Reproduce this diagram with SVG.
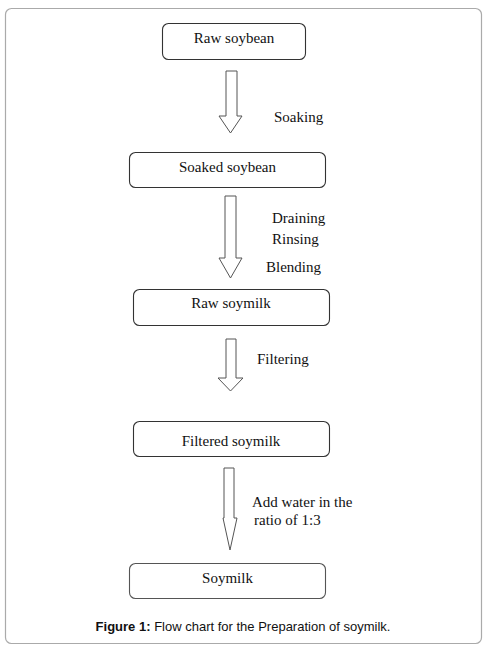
<svg xmlns="http://www.w3.org/2000/svg" width="489" height="650" viewBox="0 0 489 650">
<style>
.frame{fill:#fff;stroke:#aaa;stroke-width:1.2}
.box{fill:#fff;stroke:#333;stroke-width:1.1}
.arrow{fill:#fff;stroke:#555;stroke-width:1}
.t{font-family:"Liberation Serif","Times New Roman",serif;font-size:15px;fill:#111}
.c{font-family:"Liberation Sans",Arial,sans-serif;font-size:13px;fill:#111}
</style>
<rect class="frame" x="5.5" y="8.5" width="476" height="635" rx="6"/>
<g id="connectors">
<path class="arrow" d="M226,71 H237 V116 H242 L230.5,133 L219,116 H226 Z"/>
<path class="arrow" d="M225,196 H236 V258 H242 L230.5,278 L219,258 H225 Z"/>
<path class="arrow" d="M226,339 H236 V378 H243 L230.5,391 L218,378 H226 Z"/>
<path class="arrow" d="M224,468 H234 V518 H237 L230,550 L223,518 H224 Z"/>
<text class="t" x="274" y="122">Soaking</text>
<text class="t" x="272" y="223">Draining</text>
<text class="t" x="272" y="244">Rinsing</text>
<text class="t" x="266" y="272">Blending</text>
<text class="t" x="257" y="364">Filtering</text>
<text class="t" x="252" y="507">Add water in the</text>
<text class="t" x="254" y="525">ratio of 1:3</text>
</g>
<g id="raw-soybean"><rect class="box" x="162.5" y="23.5" width="143" height="36" rx="6"/><text class="t" x="234" y="43" text-anchor="middle">Raw soybean</text></g>
<g id="soaked-soybean"><rect class="box" x="129.5" y="152.5" width="196" height="35" rx="6"/><text class="t" x="227.5" y="172" text-anchor="middle">Soaked soybean</text></g>
<g id="raw-soymilk"><rect class="box" x="133.5" y="289.5" width="196" height="36" rx="6"/><text class="t" x="231" y="308" text-anchor="middle">Raw soymilk</text></g>
<g id="filtered-soymilk"><rect class="box" x="133.5" y="421.5" width="196" height="35" rx="6"/><text class="t" x="231" y="446" text-anchor="middle">Filtered soymilk</text></g>
<g id="soymilk"><rect class="box" x="129.5" y="563.5" width="196" height="35" rx="6" style="stroke:#555"/><text class="t" x="227.5" y="583" text-anchor="middle">Soymilk</text></g>
<text class="c" x="243" y="631" text-anchor="middle"><tspan font-weight="bold">Figure 1:</tspan> Flow chart for the Preparation of soymilk.</text>
</svg>
